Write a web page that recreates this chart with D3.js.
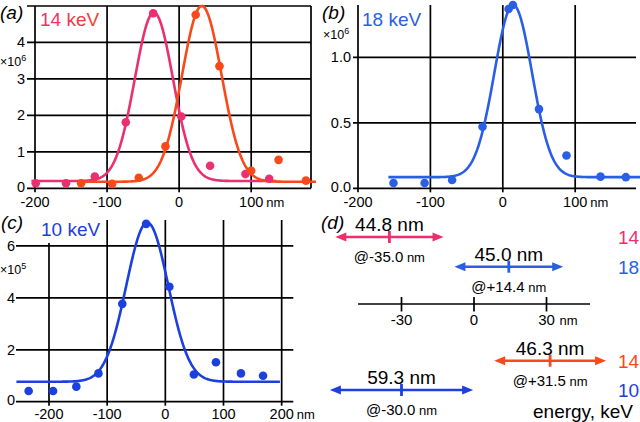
<!DOCTYPE html>
<html><head><meta charset="utf-8">
<script src="https://cdn.jsdelivr.net/npm/d3@7"></script>
<style>
body{margin:0;background:#fff}
svg{display:block}
text{font-family:"Liberation Sans",Arial,Helvetica,sans-serif}
</style>
</head><body>
<script>
// ---------- data ----------
// panel (a) 14 keV, two scans (×10^6)
const aPinkX   = [-199,-157,-117,-74,-36,3,43,92,125];
const aPinkY   = [0.14,0.14,0.32,1.81,4.80,1.97,0.62,0.39,0.26];
const aOrangeX = [-136,-93,-56,-19,23,56,100,138,176];
const aOrangeY = [0.14,0.12,0.29,1.15,4.76,3.35,0.48,0.78,0.21];
// panel (b) 18 keV (×10^6)
const bX = [-151,-108,-70,-28,8,14,50,88,135,170];
const bY = [0.04,0.04,0.063,0.47,1.37,1.40,0.605,0.25,0.089,0.085];
// panel (c) 10 keV (×10^5)
const cX = [-235,-193,-153,-115,-74,-33,7,49,87,130,168];
const cY = [0.41,0.41,0.58,1.09,3.77,6.85,4.43,1.05,1.52,1.09,1.00];
// Gaussian fit parameters (a pink, a orange, b, c)
const fitCenter = [-35,31.5,14.4,-31];
const fitSigma  = [26.5,27.5,26,36];
const fitPeak   = [4.82,5.0,1.40,6.9];
const fitBase   = [0.20,0.18,0.085,0.77];
const fitFrom   = [-205,-139,-158,-256];
const fitTo     = [135,190,190,197];
// tick labels
const aYTicks = [0,1,2,3,4];
const bYTicks = [0,0.5,1.0];
const cYTicks = [0,2,4,6];
const abXTicks = [-200,-100,0,100];
const cXTicks = [-200,-100,0,100,200];
// panel (d)
const fwhmValues   = [44.8,45.0,46.3,59.3];
const centerValues = [-35.0,14.4,31.5,-30.0];
const energyValues = [14,18,14,10];
const dTicks = [-30,0,30];

// ---------- styles ----------
const PINK="#ec2f6f", ORANGE="#f9481a", BLUE_B="#2b5ee6", BLUE_C="#1c40df";
const fitColors=[PINK,ORANGE,BLUE_B,BLUE_C];
const arrowColors=[PINK,BLUE_B,ORANGE,BLUE_C];
const rowY=[237,266.7,360.7,390];

const svg=d3.select("body").append("svg").attr("width",640).attr("height",422);
const defs=svg.append("defs");
const grad=defs.append("linearGradient").attr("id","g14").attr("x1","0").attr("x2","1");
grad.append("stop").attr("offset","0%").attr("stop-color",PINK);
grad.append("stop").attr("offset","100%").attr("stop-color","#f4402a");

function gauss(i,x){const d=x-fitCenter[i];return fitBase[i]+(fitPeak[i]-fitBase[i])*Math.exp(-d*d/(2*fitSigma[i]*fitSigma[i]));}

function panel(o){
  const g=svg.append("g");
  const x=d3.scaleLinear().domain(o.xd).range(o.xr);
  const y=d3.scaleLinear().domain(o.yd).range(o.yr);
  const y0=y(0), top=o.yr[1];
  // horizontal grid
  g.selectAll(".h").data(o.hGrid).join("line")
    .attr("x1",o.hx0).attr("x2",o.hx1).attr("y1",d=>y(d)).attr("y2",d=>y(d))
    .attr("stroke","#000").attr("stroke-width",1.7);
  // vertical grid
  g.selectAll(".v").data(o.vGrid).join("line")
    .attr("x1",d=>x(d)).attr("x2",d=>x(d)).attr("y1",top).attr("y2",y0+4)
    .attr("stroke","#000").attr("stroke-width",1.7);
  if(o.border){
    g.append("line").attr("x1",o.hx1).attr("x2",o.hx1).attr("y1",top).attr("y2",y0)
      .attr("stroke","#000").attr("stroke-width",1.7);
  }
  // y labels
  g.selectAll(".yl").data(o.yTicks).join("text")
    .attr("x",o.ylx).attr("y",d=>y(d)-(d===0?1.5:0)).attr("dy","0.34em").attr("text-anchor","end")
    .attr("font-size",14.5).text(o.yfmt);
  // x labels
  const last=o.xTicks[o.xTicks.length-1];
  g.selectAll(".xl").data(o.xTicks).join("text")
    .attr("x",d=>x(d)).attr("y",o.xlb).attr("text-anchor","middle")
    .attr("font-size",14.5).text(d=>d);
  g.append("text").attr("x",x(last)+15).attr("y",o.xlb).attr("font-size",13).text("nm");
  // multiplier
  const m=g.append("text").attr("x",o.mx).attr("y",o.my).attr("font-size",12.5);
  m.append("tspan").text("×10");
  m.append("tspan").attr("dy",-5).attr("font-size",9).text(o.mexp);
  // fits
  o.fits.forEach(i=>{
    const pts=d3.range(fitFrom[i],fitTo[i]+0.01,1).map(v=>[x(v),y(gauss(i,v))]);
    g.append("path").attr("d",d3.line()(pts)).attr("fill","none")
      .attr("stroke",fitColors[i]).attr("stroke-width",2.6);
  });
  // points
  o.series.forEach(s=>{
    g.selectAll(null).data(s.xs).join("circle")
      .attr("cx",d=>x(d)).attr("cy",(d,k)=>y(s.ys[k])).attr("r",4.3).attr("fill",s.color);
  });
  // panel label
  g.append("text").attr("x",o.lx).attr("y",o.ly).attr("font-family","'Liberation Serif',serif")
    .attr("font-style","italic").attr("font-size",19).text(o.letter);
  if(o.titleBg){
    g.append("rect").attr("x",o.lx+37).attr("y",o.ly-10).attr("width",66).attr("height",24).attr("fill","#fff");
  }
  g.append("text").attr("x",o.lx+40).attr("y",o.ly+7).attr("font-size",19)
    .attr("fill",o.titleFill).text(o.title);
  return g;
}

panel({xd:[-200,183],xr:[35,311],yd:[0,5],yr:[188.3,6],
  hGrid:[0,1,2,3,4,5],vGrid:abXTicks,hx0:27,hx1:311,border:true,
  yTicks:aYTicks,yfmt:d=>d,ylx:25,xTicks:abXTicks,xlb:206.5,mx:0,my:66,mexp:"6",
  fits:[0,1],series:[{xs:aPinkX,ys:aPinkY,color:PINK},{xs:aOrangeX,ys:aOrangeY,color:ORANGE}],
  lx:0,ly:19,letter:"(a)",title:"14 keV",titleFill:"url(#g14)",titleBg:false});

panel({xd:[-200,184],xr:[358,636],yd:[0,1.4],yr:[188.3,5],
  hGrid:[0,0.5,1.0],vGrid:abXTicks,hx0:353,hx1:636,border:false,
  yTicks:bYTicks,yfmt:d=>d.toFixed(1),ylx:351,xTicks:abXTicks,xlb:206.5,mx:323,my:39,mexp:"6",
  fits:[2],series:[{xs:bX,ys:bY,color:BLUE_B}],
  lx:322,ly:19,letter:"(b)",title:"18 keV",titleFill:BLUE_B,titleBg:false});

panel({xd:[-255,220],xr:[17,293.3],yd:[0,7],yr:[401.7,220],
  hGrid:[0,2,4,6],vGrid:cXTicks,hx0:16,hx1:293.3,border:false,
  yTicks:cYTicks,yfmt:d=>d,ylx:15,xTicks:cXTicks,xlb:419,mx:0,my:274,mexp:"5",
  fits:[3],series:[{xs:cX,ys:cY,color:BLUE_C}],
  lx:1,ly:229,letter:"(c)",title:"10 keV",titleFill:BLUE_C,titleBg:true});

// ---------- panel (d) ----------
const dx=d3.scaleLinear().domain([-48,48]).range([358,590]);
const gd=svg.append("g");
gd.append("text").attr("x",321).attr("y",229).attr("font-family","'Liberation Serif',serif")
  .attr("font-style","italic").attr("font-size",19).text("(d)");
gd.append("line").attr("x1",dx(-48)).attr("x2",dx(48)).attr("y1",304).attr("y2",304)
  .attr("stroke","#000").attr("stroke-width",1.7);
gd.selectAll(".dt").data(dTicks).join("line")
  .attr("x1",d=>dx(d)).attr("x2",d=>dx(d)).attr("y1",297).attr("y2",311.5)
  .attr("stroke","#000").attr("stroke-width",1.7);
gd.selectAll(".dtl").data(dTicks).join("text")
  .attr("x",d=>dx(d)).attr("y",325).attr("text-anchor","middle").attr("font-size",15).text(d=>d);
gd.append("text").attr("x",dx(30)+13).attr("y",325).attr("font-size",13).text("nm");

fwhmValues.forEach((w,i)=>{
  const c=centerValues[i], yy=rowY[i], col=arrowColors[i];
  const x1=dx(c-w/2), x2=dx(c+w/2), xc=dx(c);
  const hl=11, hw=4.5;
  gd.append("line").attr("x1",x1+hl-1).attr("x2",x2-hl+1).attr("y1",yy).attr("y2",yy)
    .attr("stroke",col).attr("stroke-width",2.6);
  gd.append("path").attr("d",`M${x1},${yy}L${x1+hl},${yy-hw}L${x1+hl},${yy+hw}Z`).attr("fill",col);
  gd.append("path").attr("d",`M${x2},${yy}L${x2-hl},${yy-hw}L${x2-hl},${yy+hw}Z`).attr("fill",col);
  gd.append("line").attr("x1",xc).attr("x2",xc).attr("y1",yy-6).attr("y2",yy+6)
    .attr("stroke",col).attr("stroke-width",2.8);
  gd.append("text").attr("x",xc).attr("y",yy-6).attr("text-anchor","middle").attr("font-size",19)
    .text(w.toFixed(1)+" nm");
  const t=gd.append("text").attr("x",xc).attr("y",yy+25).attr("text-anchor","middle").attr("font-size",15);
  t.append("tspan").text("@"+(c>=0?"+":"")+c.toFixed(1));
  t.append("tspan").attr("font-size",13).text(" nm");
  gd.append("text").attr("x",618).attr("y",yy+7).attr("font-size",19).attr("fill",col).text(energyValues[i]);
});
gd.append("text").attr("x",533).attr("y",418).attr("font-size",19).text("energy, keV");
</script>
</body></html>
